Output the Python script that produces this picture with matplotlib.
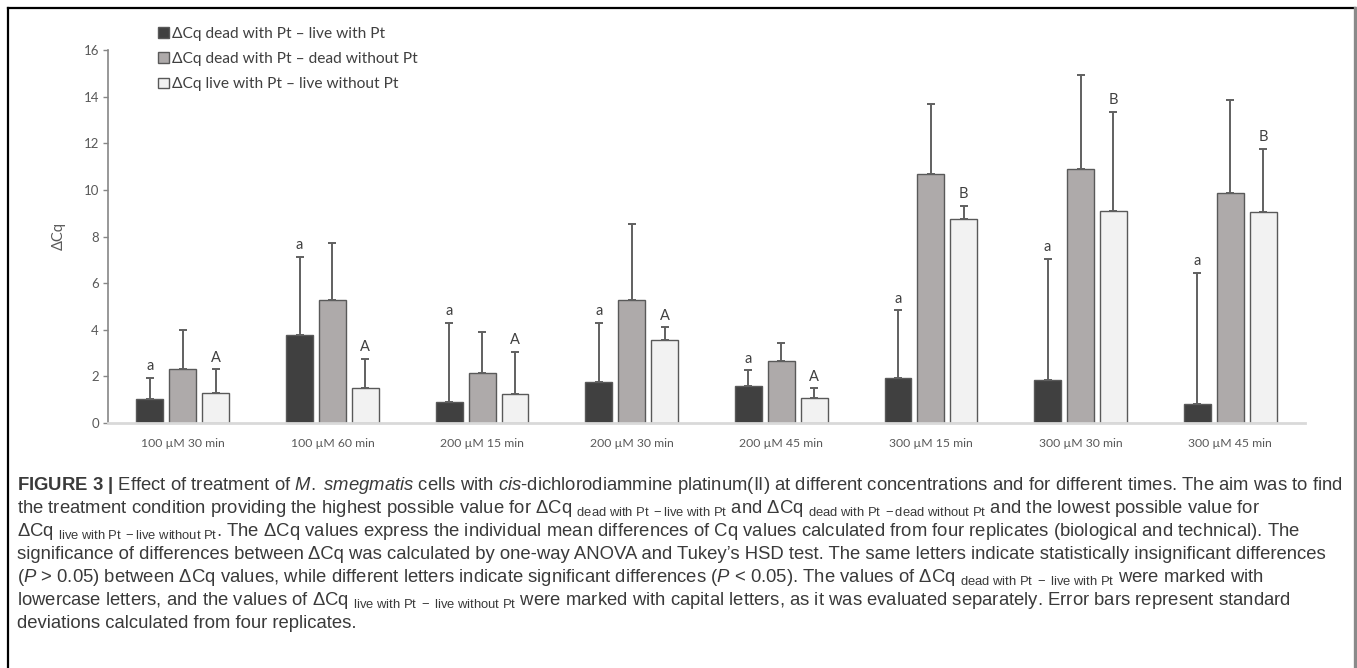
import matplotlib
matplotlib.use("Agg")
import matplotlib.pyplot as plt
import numpy as np
from matplotlib.patches import Patch
from matplotlib.lines import Line2D
from matplotlib import font_manager

# ---- data -------------------------------------------------------------
conditions = ["100 µM 30 min", "100 µM 60 min", "200 µM 15 min", "200 µM 30 min",
              "200 µM 45 min", "300 µM 15 min", "300 µM 30 min", "300 µM 45 min"]

series_labels = ["ΔCq dead with Pt – live with Pt",
                 "ΔCq dead with Pt – dead without Pt",
                 "ΔCq live with Pt – live without Pt"]

dead_live_mean = [1.05, 3.77, 0.90, 1.74, 1.58, 1.93, 1.83, 0.83]
dead_live_sd = [0.90, 3.35, 3.40, 2.56, 0.68, 2.91, 5.20, 5.62]

dead_dead_mean = [2.31, 5.27, 2.15, 5.27, 2.66, 10.69, 10.89, 9.87]
dead_dead_sd = [1.67, 2.44, 1.76, 3.27, 0.79, 2.99, 4.05, 3.97]

live_live_mean = [1.28, 1.50, 1.26, 3.55, 1.09, 8.77, 9.10, 9.04]
live_live_sd = [1.03, 1.24, 1.79, 0.56, 0.39, 0.54, 4.26, 2.73]

dead_live_letters = ["a", "a", "a", "a", "a", "a", "a", "a"]
live_live_letters = ["A", "A", "A", "A", "A", "B", "B", "B"]

y_ticks = [0, 2, 4, 6, 8, 10, 12, 14, 16]

# ---- fonts ------------------------------------------------------------
available = {f.name for f in font_manager.fontManager.ttflist}
chart_font = "Lato" if "Lato" in available else "DejaVu Sans"
if "Liberation Sans Narrow" in available:
    caption_font, caption_size = "Liberation Sans Narrow", 14.5
else:
    caption_font, caption_size = "Liberation Sans", 13.35

plt.rcParams["font.family"] = [chart_font, "DejaVu Sans"]
plt.rcParams["mathtext.fontset"] = "custom"
plt.rcParams["mathtext.rm"] = caption_font
plt.rcParams["mathtext.it"] = caption_font + ":italic"
plt.rcParams["mathtext.bf"] = caption_font + ":bold"
plt.rcParams["mathtext.sf"] = caption_font

W, H = 1357, 668
fig = plt.figure(figsize=(W / 100, H / 100), dpi=100)
fig.patch.set_facecolor("white")


def fx(px):
    return px / W


def fy(py):
    return 1 - py / H


ax = fig.add_axes([fx(108), fy(423), fx(1305) - fx(108), fy(50) - fy(423)])

colors = ["#404040", "#aeaaaa", "#f2f2f2"]
edge = "#595959"
text_grey = "#595959"

x = np.arange(len(conditions))
width = 0.18
offset = 0.22
means = [dead_live_mean, dead_dead_mean, live_live_mean]
sds = [dead_live_sd, dead_dead_sd, live_live_sd]

for k in range(3):
    xs = x + (k - 1) * offset
    ax.bar(xs, means[k], width=width, color=colors[k], edgecolor=edge,
           linewidth=1.0, zorder=2)
    ax.errorbar(xs, means[k], yerr=[np.zeros(len(xs)), sds[k]], fmt="none",
                ecolor="#606060", elinewidth=1.4, capsize=3, capthick=1.4, zorder=3)

for i in range(len(conditions)):
    ax.annotate(dead_live_letters[i], xy=(x[i] - offset, dead_live_mean[i] + dead_live_sd[i]),
                xytext=(0, 5.5), textcoords="offset points", ha="center", va="baseline",
                fontsize=10.5, color="#404040")
    ax.annotate(live_live_letters[i], xy=(x[i] + offset, live_live_mean[i] + live_live_sd[i]),
                xytext=(0, 5.5), textcoords="offset points", ha="center", va="baseline",
                fontsize=10.5, color="#404040")

ax.set_xlim(-0.5, 7.5)
ax.set_ylim(0, 16)
ax.set_yticks(y_ticks)
ax.set_xticks(x)
ax.set_xticklabels(conditions)
ax.tick_params(axis="x", length=0, pad=11, labelsize=8.8, labelcolor=text_grey)
ax.tick_params(axis="y", length=3.5, width=1.0, color="#868686", pad=3,
               labelsize=9.5, labelcolor=text_grey)
for s in ["top", "right"]:
    ax.spines[s].set_visible(False)
ax.spines["left"].set_color("#868686")
ax.spines["left"].set_linewidth(1.2)
ax.spines["bottom"].set_color("#d9d9d9")
ax.spines["bottom"].set_linewidth(2.0)
ax.set_ylabel("ΔCq", fontsize=10.5, color=text_grey)
ax.yaxis.set_label_coords(-0.035, 0.5)

handles = [Patch(facecolor=colors[k], edgecolor=edge, linewidth=1.0) for k in range(3)]
fig.legend(handles, series_labels, loc="upper left", bbox_to_anchor=(fx(158), fy(27)),
           frameon=False, fontsize=11.2, handlelength=0.7, handleheight=0.7,
           handletextpad=0.2, labelspacing=0.72, borderpad=0, borderaxespad=0,
           labelcolor="#404040")

# ---- caption ----------------------------------------------------------
def sub(s):
    return r"$_{\mathrm{" + s.replace(" ", r"\ ") + r"}}$"


def it(s):
    return r"$\mathit{" + s.replace(" ", r"\ ") + r"}$"


caption_lines = [
    r"$\mathbf{FIGURE\ 3\ |}$ Effect of treatment of " + it("M.") + " " + it("smegmatis") + " cells with "
    + it("cis") + "-dichlorodiammine platinum(II) at different concentrations and for different times. The aim was to find",
    "the treatment condition providing the highest possible value for ΔCq " + sub("dead with Pt −live with Pt")
    + " and ΔCq " + sub("dead with Pt −dead without Pt") + " and the lowest possible value for",
    "ΔCq " + sub("live with Pt −live without Pt")
    + ". The ΔCq values express the individual mean differences of Cq values calculated from four replicates (biological and technical). The",
    "significance of differences between ΔCq was calculated by one-way ANOVA and Tukey’s HSD test. The same letters indicate statistically insignificant differences",
    "(" + it("P") + " > 0.05) between ΔCq values, while different letters indicate significant differences ("
    + it("P") + " < 0.05). The values of ΔCq " + sub("dead with Pt − live with Pt") + " were marked with",
    "lowercase letters, and the values of ΔCq " + sub("live with Pt − live without Pt")
    + " were marked with capital letters, as it was evaluated separately. Error bars represent standard",
    "deviations calculated from four replicates.",
]

for i, line in enumerate(caption_lines):
    fig.text(fx(17), fy(490 + 23 * i), line, fontsize=caption_size, color="#3a3a3a",
             family=[caption_font, "DejaVu Sans"], ha="left", va="baseline")

# frame around the figure panel
fig.add_artist(Line2D([fx(8), fx(1355)], [fy(8), fy(8)], transform=fig.transFigure,
                      color="black", linewidth=1.6))
fig.add_artist(Line2D([fx(8), fx(8)], [fy(8), fy(H + 5)], transform=fig.transFigure,
                      color="black", linewidth=1.6))
fig.add_artist(Line2D([fx(1355), fx(1355)], [fy(8), fy(H + 5)], transform=fig.transFigure,
                      color="#8a8a8a", linewidth=2.4))

fig.savefig("out.png", dpi=100)
